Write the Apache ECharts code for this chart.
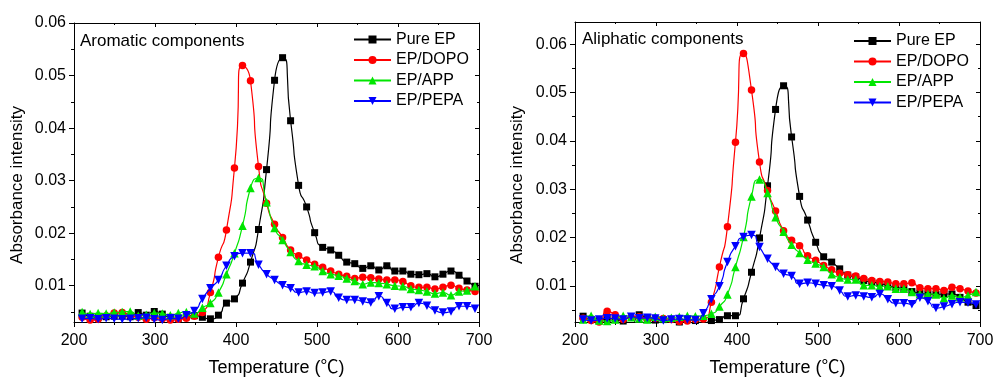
<!DOCTYPE html>
<html><head><meta charset="utf-8">
<script src="https://cdn.jsdelivr.net/npm/echarts@6/dist/echarts.min.js"></script>
<style>html,body{margin:0;padding:0;background:#fff}#c{width:993px;height:378px}</style>
</head><body><div id="c"></div>
<script>
const temps = [210,219.9,229.8,239.7,249.6,259.5,269.4,279.3,289.2,299.1,309,318.9,328.8,338.7,348.6,358.5,368.4,378.3,388.2,398.1,408,417.9,427.8,437.7,447.6,457.5,467.4,477.3,487.2,497.1,507,516.9,526.8,536.7,546.6,556.5,566.4,576.3,586.2,596.1,606,615.9,625.8,635.7,645.6,655.5,665.4,675.3,685.2,695.1];
const seriesNames = ['Pure EP','EP/DOPO','EP/APP','EP/PEPA'];
const xTicks = [200,300,400,500,600,700];
const yMajor = [0.01,0.02,0.03,0.04,0.05,0.06];
const yMinor = [0.005,0.015,0.025,0.035,0.045,0.055,0.065];
const panelTitles = ['Aromatic components','Aliphatic components'];

// Aromatic components (left)
const aroPureEP = [0.0048,0.0042,0.0040,0.0041,0.0042,0.0043,0.0041,0.0049,0.0044,0.0051,0.0046,0.0040,0.0038,0.0041,0.0043,
 0.0040,0.0037,0.0044,0.0067,0.0075,0.0105,0.0145,0.0207,0.0321,0.0491,
 0.0534,0.0414,0.0291,0.0250,0.0201,0.0173,0.0168,0.0158,0.0145,0.0142,
 0.0133,0.0138,0.0130,0.0138,0.0128,0.0128,0.0122,0.0121,0.0123,0.0117,
 0.0122,0.0128,0.0120,0.0109,0.0099];
const aroDOPO = [0.0040,0.0035,0.0036,0.0043,0.0048,0.0049,0.0044,0.0040,0.0036,0.0039,0.0037,0.0035,0.0036,0.0038,0.0042,
 0.0049,0.0087,0.0154,0.0206,0.0324,0.0519,0.0490,0.0327,0.0257,0.0217,
 0.0192,0.0168,0.0157,0.0149,0.0141,0.0135,0.0128,0.0122,0.0118,0.0114,
 0.0116,0.0115,0.0113,0.0111,0.0111,0.0108,0.0100,0.0097,0.0097,0.0094,
 0.0097,0.0101,0.0095,0.0092,0.0089];
const aroAPP = [0.0050,0.0046,0.0048,0.0047,0.0049,0.0050,0.0051,0.0043,0.0045,0.0048,0.0047,0.0044,0.0048,0.0050,0.0047,
 0.0058,0.0067,0.0087,0.0122,0.0162,0.0214,0.0286,0.0305,0.0259,0.0210,
 0.0187,0.0164,0.0147,0.0140,0.0137,0.0128,0.0122,0.0119,0.0114,0.0109,
 0.0103,0.0106,0.0105,0.0103,0.0100,0.0099,0.0094,0.0092,0.0089,0.0085,
 0.0087,0.0082,0.0089,0.0091,0.0099];
const aroPEPA = [0.0037,0.0038,0.0036,0.0038,0.0037,0.0036,0.0037,0.0038,0.0039,0.0036,0.0035,0.0038,0.0037,0.0044,0.0052,
 0.0075,0.0095,0.0111,0.0138,0.0156,0.0162,0.0162,0.0140,0.0122,0.0111,
 0.0101,0.0095,0.0087,0.0089,0.0086,0.0087,0.0089,0.0077,0.0073,0.0073,
 0.0070,0.0068,0.0080,0.0067,0.0056,0.0059,0.0059,0.0067,0.0062,0.0053,
 0.0049,0.0051,0.0061,0.0061,0.0056];

// Aliphatic components (right)
const aliPureEP = [0.0037,0.0030,0.0028,0.0032,0.0030,0.0027,0.0022,0.0040,0.0033,0.0029,0.0030,0.0021,0.0025,0.0030,0.0028,
 0.0022,0.0028,0.0030,0.0038,0.0038,0.0073,0.0128,0.0199,0.0307,0.0465,
 0.0514,0.0408,0.0285,0.0236,0.0190,0.0160,0.0149,0.0135,0.0122,0.0118,
 0.0111,0.0108,0.0105,0.0101,0.0096,0.0094,0.0088,0.0085,0.0083,0.0082,
 0.0083,0.0083,0.0076,0.0066,0.0059];
const aliDOPO = [0.0033,0.0028,0.0025,0.0047,0.0040,0.0030,0.0035,0.0036,0.0030,0.0033,0.0032,0.0030,0.0026,0.0027,0.0030,
 0.0031,0.0066,0.0139,0.0222,0.0397,0.0581,0.0505,0.0356,0.0297,0.0255,
 0.0214,0.0194,0.0183,0.0162,0.0153,0.0142,0.0133,0.0126,0.0123,0.0120,
 0.0115,0.0111,0.0109,0.0108,0.0104,0.0104,0.0106,0.0096,0.0094,0.0094,
 0.0090,0.0097,0.0094,0.0089,0.0085];
const aliAPP = [0.0030,0.0038,0.0028,0.0027,0.0030,0.0038,0.0035,0.0032,0.0030,0.0036,0.0033,0.0034,0.0036,0.0038,0.0037,
 0.0038,0.0042,0.0057,0.0082,0.0139,0.0201,0.0285,0.0320,0.0292,0.0242,
 0.0212,0.0185,0.0168,0.0154,0.0146,0.0139,0.0124,0.0117,0.0113,0.0113,
 0.0101,0.0101,0.0099,0.0099,0.0094,0.0094,0.0087,0.0083,0.0083,0.0082,
 0.0074,0.0080,0.0076,0.0080,0.0087];
const aliPEPA = [0.0030,0.0028,0.0030,0.0033,0.0032,0.0030,0.0036,0.0033,0.0034,0.0032,0.0028,0.0030,0.0031,0.0030,0.0029,
 0.0043,0.0072,0.0099,0.0149,0.0182,0.0201,0.0205,0.0180,0.0156,0.0139,
 0.0125,0.0120,0.0104,0.0106,0.0104,0.0101,0.0099,0.0090,0.0078,0.0080,
 0.0078,0.0076,0.0083,0.0072,0.0064,0.0064,0.0062,0.0075,0.0068,0.0054,
 0.0057,0.0062,0.0066,0.0065,0.0061];

const FONT = "'Liberation Sans', Arial, 'Noto Sans CJK SC', sans-serif";
const colors = ['#000000','#ff0000','#00e600','#0000ff'];
const symbols = ['rect','circle','triangle','triangle'];
const rotates = [0,0,0,180];
const sizes = [7,7.5,8.5,8.5];

const grids = [
  {left:74, top:23, width:405, height:299, containLabel:false, outerBoundsMode:'none'},
  {left:575, top:22, width:405, height:300, containLabel:false, outerBoundsMode:'none'}
];
const yRanges = [[0.0031,0.06],[0.0025,0.0646]];

function xAxes(gi){
  const base = {gridIndex:gi, type:'value', min:200, max:700, interval:100, splitLine:{show:false},
    axisLine:{lineStyle:{color:'#000',width:1}}};
  return [
    Object.assign({}, base, {position:'bottom',
      axisTick:{length:5, lineStyle:{color:'#000'}},
      minorTick:{show:true, splitNumber:2, length:3, lineStyle:{color:'#000'}},
      axisLabel:{fontSize:16, color:'#000', fontFamily:FONT, margin:11},
      name:'Temperature (℃)', nameLocation:'middle', nameGap:37,
      nameTextStyle:{fontSize:18, color:'#000', fontFamily:FONT}}),
    Object.assign({}, base, {position:'top',
      axisTick:{inside:true, length:4, lineStyle:{color:'#000'}},
      minorTick:{show:true, splitNumber:2, length:2, lineStyle:{color:'#000'}},
      axisLabel:{show:false}})
  ];
}
function yAxes(gi){
  const [mn,mx] = yRanges[gi];
  const base = {gridIndex:gi, type:'value', min:mn, max:mx, splitLine:{show:false}};
  const minors = yMinor.filter(v => v > mn && v < mx);
  return [
    Object.assign({}, base, {position:'left',
      axisLine:{show:true, lineStyle:{color:'#000'}},
      axisTick:{show:true, length:5, customValues:yMajor, lineStyle:{color:'#000'}},
      axisLabel:{customValues:yMajor, fontSize:16, color:'#000', fontFamily:FONT, margin:8,
        formatter: v => v.toFixed(2)}}),
    Object.assign({}, base, {position:'left',
      axisLine:{show:false},
      axisTick:{show:true, length:3, customValues:minors, lineStyle:{color:'#000'}},
      axisLabel:{show:false}}),
    Object.assign({}, base, {position:'right',
      axisLine:{show:true, lineStyle:{color:'#000'}},
      axisTick:{show:true, inside:true, length:4, customValues:yMajor, lineStyle:{color:'#000'}},
      axisLabel:{show:false}}),
    Object.assign({}, base, {position:'right',
      axisLine:{show:false},
      axisTick:{show:true, inside:true, length:2, customValues:minors, lineStyle:{color:'#000'}},
      axisLabel:{show:false}})
  ];
}

const panelData = [[aroPureEP, aroDOPO, aroAPP, aroPEPA],[aliPureEP, aliDOPO, aliAPP, aliPEPA]];
const series = [];
panelData.forEach((arrs, gi) => {
  arrs.forEach((vals, k) => {
    series.push({
      name: seriesNames[k], type:'line', xAxisIndex: gi*2, yAxisIndex: gi*4,
      data: temps.map((t,i) => [t, vals[i]]),
      smooth: 0.8, symbol: symbols[k], symbolRotate: rotates[k], symbolSize: sizes[k],
      showAllSymbol: true, clip: true,
      lineStyle:{color:colors[k], width:1.2},
      itemStyle:{color:colors[k], borderWidth:0},
      emphasis:{disabled:true}, z: 2 + k
    });
  });
});

const legendBase = {orient:'vertical', itemWidth:37, itemHeight:10, itemGap:4.5,
  textStyle:{fontSize:16, color:'#000', fontFamily:FONT, lineHeight:16}, data: seriesNames,
  selectedMode:false};

const option = {
  animation:false,
  title: [
    {text: panelTitles[0], left:80, top:33, padding:0, textStyle:{fontSize:17, fontWeight:'normal', color:'#000', fontFamily:FONT}},
    {text: panelTitles[1], left:582, top:31, padding:0, textStyle:{fontSize:17, fontWeight:'normal', color:'#000', fontFamily:FONT}}
  ],
  legend: [
    Object.assign({}, legendBase, {left:353, top:31.5, padding:0}),
    Object.assign({}, legendBase, {left:853, top:33, padding:0})
  ],
  grid: grids,
  xAxis: [...xAxes(0), ...xAxes(1)],
  yAxis: [...yAxes(0), ...yAxes(1)],
  graphic: [
    {type:'text', x:17, y:185, rotation:Math.PI/2, style:{text:'Absorbance intensity', fontSize:17, fontFamily:FONT, fill:'#000', align:'center', verticalAlign:'middle'}},
    {type:'text', x:517.5, y:185, rotation:Math.PI/2, style:{text:'Absorbance intensity', fontSize:17, fontFamily:FONT, fill:'#000', align:'center', verticalAlign:'middle'}}
  ],
  series: series
};
const chart = echarts.init(document.getElementById('c'), null, {renderer:'canvas'});
chart.setOption(option);
</script>
</body></html>
